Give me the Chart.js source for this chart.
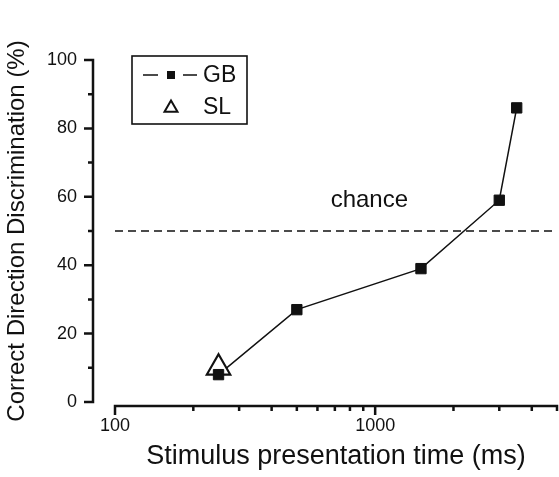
<!DOCTYPE html>
<html><head><meta charset="utf-8">
<script src="https://cdn.jsdelivr.net/npm/chart.js@4/dist/chart.umd.min.js"></script>
<style>html,body{margin:0;padding:0;background:#fff}#wrap{width:559px;height:477px}</style>
</head><body><div id="wrap"><canvas id="c" width="559" height="477"></canvas></div>
<script>
// ---- data ----
const seriesNames = ['GB', 'SL'];
const gbTimes = [250, 500, 1500, 3000, 3500];
const gbValues = [8, 27, 39, 59, 86];
const slTimes = [250];
const slValues = [10];
const chanceLevel = 50;
const chanceText = 'chance';
const chanceTextAt = [950, 59];
const xRange = [100, 5000];
const yRange = [0, 100];
const xTickLabels = [100, 1000];
const xMinorTicks = [200, 300, 400, 500, 600, 700, 800, 900, 2000, 3000, 4000, 5000];
const yTickLabels = [0, 20, 40, 60, 80, 100];
const yMinorTicks = [10, 30, 50, 70, 90];
const xTitle = 'Stimulus presentation time (ms)';
const yTitle = 'Correct Direction Discrimination (%)';

const FONT = "'Liberation Sans', Arial, sans-serif";
const INK = '#111';

const toPts = (xs, ys) => xs.map((v, i) => ({x: v, y: ys[i]}));

const axesPlugin = {
  id: 'offsetAxes',
  afterDraw(chart) {
    const {ctx, scales: {x, y}} = chart;
    const lineY = y.getPixelForValue(yRange[0]) + 4;
    const lineX = x.getPixelForValue(xRange[0]) - 22;
    ctx.save();
    ctx.strokeStyle = INK;
    ctx.lineWidth = 2.5;
    ctx.lineCap = 'butt';
    // y axis
    ctx.beginPath();
    ctx.moveTo(lineX, y.getPixelForValue(yRange[1]) - 1.25);
    ctx.lineTo(lineX, y.getPixelForValue(yRange[0]) + 1.25);
    yTickLabels.forEach(v => { const p = y.getPixelForValue(v); ctx.moveTo(lineX, p); ctx.lineTo(lineX - 9, p); });
    yMinorTicks.forEach(v => { const p = y.getPixelForValue(v); ctx.moveTo(lineX, p); ctx.lineTo(lineX - 5, p); });
    ctx.stroke();
    // x axis
    ctx.beginPath();
    ctx.moveTo(x.getPixelForValue(xRange[0]) - 1.25, lineY);
    ctx.lineTo(x.getPixelForValue(xRange[1]) + 1.25, lineY);
    xTickLabels.forEach(v => { const p = x.getPixelForValue(v); ctx.moveTo(p, lineY); ctx.lineTo(p, lineY + 9); });
    xMinorTicks.forEach(v => { const p = x.getPixelForValue(v); ctx.moveTo(p, lineY); ctx.lineTo(p, lineY + 5); });
    ctx.stroke();

    // chance label
    ctx.fillStyle = INK;
    ctx.font = '24px ' + FONT;
    ctx.textAlign = 'center';
    ctx.textBaseline = 'middle';
    ctx.fillText(chanceText, x.getPixelForValue(chanceTextAt[0]), y.getPixelForValue(chanceTextAt[1]));

    // legend
    const bx = 132, by = 56, bw = 115, bh = 68;
    ctx.lineWidth = 1.6;
    ctx.strokeRect(bx, by, bw, bh);
    const r1 = by + 19, r2 = by + 51;
    const gb = chart.data.datasets[0];
    ctx.strokeStyle = gb.borderColor;
    ctx.lineWidth = 1.5;
    ctx.beginPath();
    ctx.moveTo(bx + 11, r1); ctx.lineTo(bx + 26, r1);
    ctx.moveTo(bx + 51, r1); ctx.lineTo(bx + 65, r1);
    ctx.stroke();
    ctx.fillStyle = INK;
    ctx.fillRect(bx + 35, r1 - 4, 8, 8);
    // triangle
    const tx = bx + 39, ty = r2 + 1, tr = 7.5;
    ctx.beginPath();
    for (let k = 0; k < 3; k++) {
      const a = -Math.PI / 2 + k * 2 * Math.PI / 3;
      const px = tx + Math.cos(a) * tr, py = ty + Math.sin(a) * tr;
      k ? ctx.lineTo(px, py) : ctx.moveTo(px, py);
    }
    ctx.closePath();
    ctx.lineWidth = 2;
    ctx.strokeStyle = INK;
    ctx.stroke();
    ctx.font = '23px ' + FONT;
    ctx.textAlign = 'left';
    ctx.fillText(seriesNames[0], bx + 71, r1 + 1);
    ctx.fillText(seriesNames[1], bx + 71, r2 + 1);
    ctx.restore();
  }
};

new Chart(document.getElementById('c'), {
  type: 'scatter',
  data: {
    datasets: [
      { label: seriesNames[0], data: toPts(gbTimes, gbValues), showLine: true,
        borderColor: INK, borderWidth: 1.5, pointRadius: 0, order: 3 },
      { label: 'chance', data: toPts(xRange, [chanceLevel, chanceLevel]), showLine: true,
        borderColor: INK, borderWidth: 1.5, borderDash: [8, 5], pointRadius: 0, order: 4 },
      { label: seriesNames[1], data: toPts(slTimes, slValues), pointStyle: 'triangle',
        pointRadius: 13.5, borderWidth: 2.2, borderColor: INK, backgroundColor: '#fff', order: 2 },
      { label: seriesNames[0] + ' markers', data: toPts(gbTimes, gbValues), pointStyle: 'rect',
        pointRadius: 7.3, borderWidth: 1, borderColor: INK, backgroundColor: INK, order: 1 }
    ]
  },
  options: {
    responsive: false,
    animation: false,
    devicePixelRatio: 1,
    layout: { autoPadding: false, padding: { top: 60, right: 2, left: 0, bottom: 0 } },
    plugins: { legend: { display: false }, tooltip: { enabled: false } },
    scales: {
      x: {
        type: 'logarithmic', min: xRange[0], max: xRange[1],
        grid: { display: false, drawTicks: false }, border: { display: false },
        afterBuildTicks: s => { s.ticks = xTickLabels.map(v => ({value: v})); },
        afterFit: s => { s.height = 75; s.paddingLeft = 0; s.paddingRight = 0; },
        ticks: { autoSkip: false, maxRotation: 0, padding: 13, color: INK,
                 font: { family: FONT, size: 18 }, callback: v => String(v) },
        title: { display: true, text: xTitle, color: INK, font: { family: FONT, size: 27 },
                 padding: { top: 0, bottom: 4 } }
      },
      y: {
        min: yRange[0], max: yRange[1],
        grid: { display: false, drawTicks: false }, border: { display: false },
        afterBuildTicks: s => { s.ticks = yTickLabels.map(v => ({value: v})); },
        afterFit: s => { s.width = 115; s.paddingTop = 0; s.paddingBottom = 0; },
        ticks: { padding: 38, color: INK, font: { family: FONT, size: 18 } },
        title: { display: true, text: yTitle, color: INK, font: { family: FONT, size: 24 },
                 padding: { top: 3, bottom: 0 } }
      }
    }
  },
  plugins: [axesPlugin]
});
</script></body></html>
